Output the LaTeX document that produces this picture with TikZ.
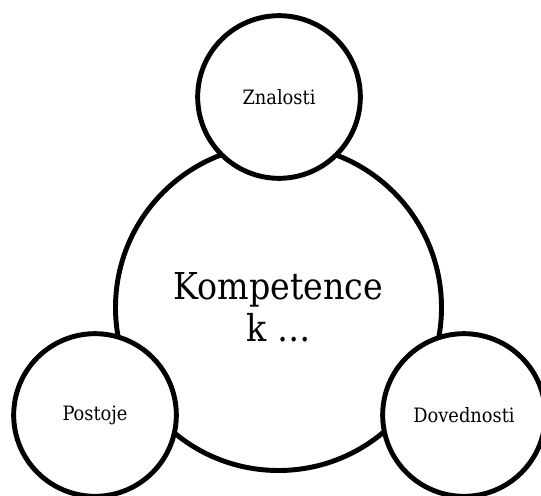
\documentclass[tikz,border=0pt]{standalone}
\usepackage{fontspec}
\setmainfont{DejaVu Serif Condensed}
\begin{document}
\begin{tikzpicture}[x=0.75pt,y=0.75pt,yscale=-1,xscale=1,
  bigcirc/.style={circle,draw,line width=3.7pt,fill=white,minimum size=244.5pt,inner sep=0pt,align=center,font=\fontsize{27.75}{31.3}\selectfont},
  smallcirc/.style={circle,draw,line width=3.7pt,fill=white,minimum size=122pt,inner sep=0pt,font=\fontsize{14.85}{17}\selectfont}]
  \useasboundingbox (0,0) rectangle (541,495);

  %Circle: main
  \node [bigcirc] (komp) at (278.5,307.5) {Kompetence\\k …};

  %Circle: three parts over the main one
  \node [smallcirc] (znalosti) at (279,97) {Znalosti};
  \node [smallcirc] (postoje) at (95,415) {Postoje};
  \node [smallcirc] (dovednosti) at (464,415) {Dovednosti};
\end{tikzpicture}
\end{document}
